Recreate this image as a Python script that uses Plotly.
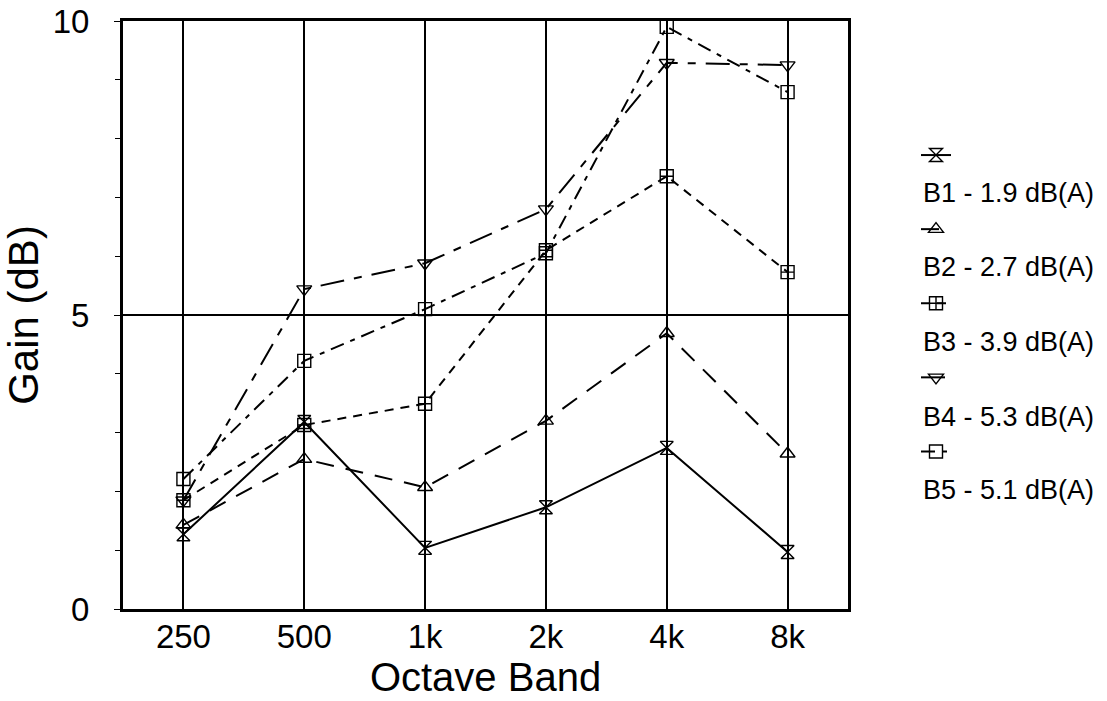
import plotly.graph_objects as go

bands = ["250", "500", "1k", "2k", "4k", "8k"]
series_labels = ["B1 - 1.9 dB(A)", "B2 - 2.7 dB(A)", "B3 - 3.9 dB(A)",
                 "B4 - 5.3 dB(A)", "B5 - 5.1 dB(A)"]
b1 = [1.27, 3.18, 1.04, 1.73, 2.74, 0.97]
b2 = [1.43, 2.55, 2.07, 3.20, 4.69, 2.64]
b3 = [1.85, 3.13, 3.49, 6.10, 7.36, 5.73]
b4 = [1.85, 5.44, 5.88, 6.80, 9.29, 9.25]
b5 = [2.21, 4.22, 5.10, 6.05, 9.90, 8.79]
series_values = [b1, b2, b3, b4, b5]

symbols = ["hourglass-open", "triangle-up-open", "square-cross-open",
           "triangle-down-open", "square-open"]
dashes = ["solid", "18px,12px", "9px,7px", "24px,10px,8px,10px", "14px,7px,5px,7px"]

FONT = "Liberation Sans, Arial, sans-serif"

fig = go.Figure()
for i, (lab, vals) in enumerate(zip(series_labels, series_values)):
    fig.add_trace(go.Scatter(
        x=bands, y=vals, mode="lines+markers",
        name=" ", legendgroup=lab, hovertext=lab, hoverinfo="text+y",
        line=dict(color="black", width=2, dash=dashes[i]),
        marker=dict(symbol=symbols[i], size=13, color="black",
                    line=dict(color="black", width=1.4)),
    ))

W, H = 1107, 701
L, R, T, B = 123, 259, 21, 92
pw, ph = W - L - R, H - T - B

def px_to_paper_x(px):
    return (px - L) / pw

def px_to_paper_y(py):
    return (H - B - py) / ph

label_rows = [193, 267, 342, 417, 490]
for lab, yy in zip(series_labels, label_rows):
    fig.add_annotation(text=lab, xref="paper", yref="paper",
                       x=px_to_paper_x(921), y=px_to_paper_y(yy),
                       xanchor="left", yanchor="middle", showarrow=False,
                       font=dict(family=FONT, size=27, color="black"))

fig.update_layout(
    width=W, height=H,
    margin=dict(l=L, r=R, t=T, b=B),
    paper_bgcolor="white", plot_bgcolor="white",
    font=dict(family=FONT, color="black"),
    showlegend=True,
    legend=dict(x=px_to_paper_x(916), y=px_to_paper_y(131), xanchor="left", yanchor="top",
                font=dict(family=FONT, size=27), tracegroupgap=36,
                bgcolor="rgba(0,0,0,0)", itemwidth=30),
    xaxis=dict(
        type="category", categoryorder="array", categoryarray=bands,
        range=[-0.5, 5.5], automargin=False,
        showgrid=True, gridcolor="black", gridwidth=1.5,
        showline=True, linecolor="black", linewidth=3, mirror=True,
        ticks="", ticklabelstandoff=-4,
        tickfont=dict(family=FONT, size=33, color="black"),
        title=dict(text="Octave Band", font=dict(family=FONT, size=40, color="black"),
                   standoff=10),
        zeroline=False,
    ),
    yaxis=dict(
        range=[0, 10], dtick=5, tick0=0, automargin=False,
        showgrid=True, gridcolor="black", gridwidth=1.5,
        showline=True, linecolor="black", linewidth=3, mirror=True,
        ticks="outside", ticklen=6, tickcolor="black",
        ticklabelstandoff=18,
        minor=dict(dtick=1, ticks="outside", ticklen=5, tickcolor="black", showgrid=False),
        tickfont=dict(family=FONT, size=33, color="black"),
        title=dict(text="Gain (dB)", font=dict(family=FONT, size=42, color="black"),
                   standoff=3),
        zeroline=False,
    ),
)

fig.write_html("out.html")
